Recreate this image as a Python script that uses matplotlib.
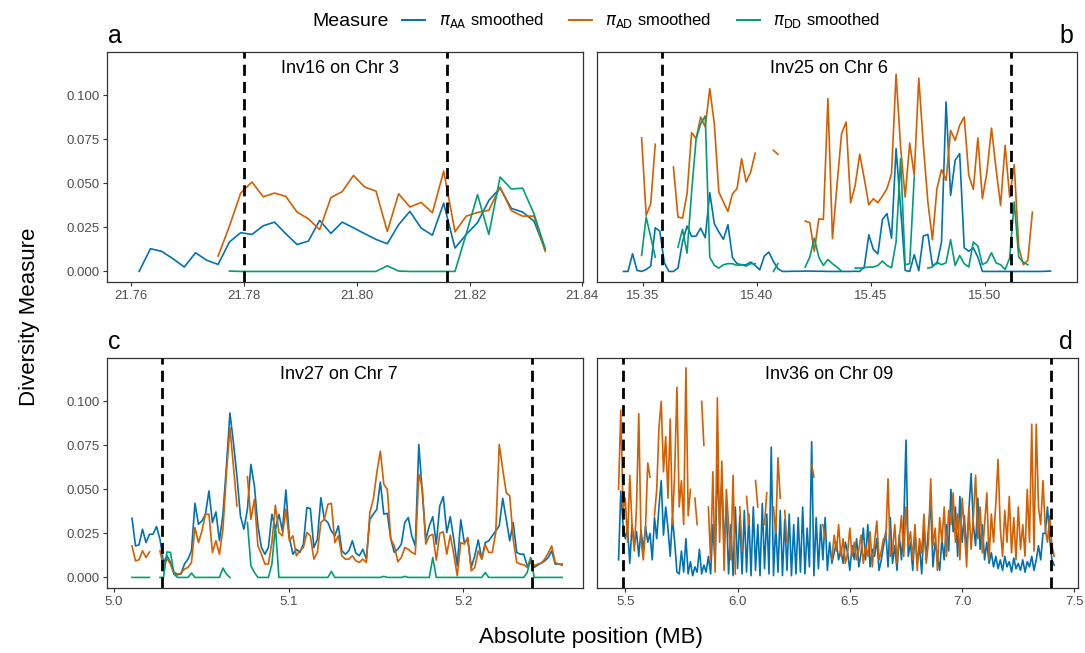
import numpy as np
import matplotlib.pyplot as plt
from matplotlib.lines import Line2D

plt.rcParams['font.family'] = ['Liberation Sans', 'DejaVu Sans']
plt.rcParams['mathtext.fontset'] = 'dejavusans'

nan = np.nan
BLUE = '#0072B2'
ORANGE = '#D55E00'
GREEN = '#009E73'

# ---- panel a : Inv16 on Chr 3 ----
pos_a = np.linspace(21.7614, 21.8334, 37)
a_aa = [0.0, 0.0129, 0.0114, 0.0072, 0.0025, 0.0106, 0.0063, 0.0040, 0.0167, 0.0220,
        0.0210, 0.0259, 0.0280, 0.0214, 0.0153, 0.0172, 0.0290, 0.0216, 0.0280, 0.0248,
        0.0214, 0.0182, 0.0157, 0.0265, 0.0341, 0.0246, 0.0206, 0.0388, 0.0133, 0.0210,
        0.0277, 0.0403, 0.0473, 0.0358, 0.0337, 0.0286, 0.0123]
a_ad = [nan, nan, nan, nan, nan, nan, nan, 0.0087, 0.0256, 0.0445,
        0.0508, 0.0424, 0.0445, 0.0426, 0.0337, 0.0299, 0.0237, 0.0419, 0.0453, 0.0545,
        0.0479, 0.0456, 0.0227, 0.0441, 0.0366, 0.0392, 0.0333, 0.0570, 0.0225, 0.0314,
        0.0335, 0.0347, 0.0479, 0.0345, 0.0314, 0.0314, 0.0114]
a_dd = [nan, nan, nan, nan, nan, nan, nan, nan, 0.0002, 0.0,
        0.0, 0.0, 0.0, 0.0, 0.0, 0.0, 0.0, 0.0, 0.0, 0.0,
        0.0, 0.0, 0.0032, 0.0002, 0.0, 0.0, 0.0, 0.0, 0.0, 0.0214,
        0.0436, 0.0210, 0.0536, 0.0468, 0.0473, 0.0328, 0.0129]
bounds_a = [21.780, 21.816]

# ---- panel b : Inv25 on Chr 6 ----
pos_b = np.linspace(15.3414, 15.5288, 95)
b_aa = [0.0, 0.0, 0.0100, 0.0006, 0.0, 0.0011, 0.0030, 0.0248, 0.0229, 0.0049,
        0.0, 0.0, 0.0019, 0.0167, 0.0258, 0.0199, 0.0201, 0.0246, 0.0191, 0.0447,
        0.0271, 0.0224, 0.0182, 0.0265, 0.0078, 0.0044, 0.0038, 0.0038, 0.0053, 0.0034,
        0.0009, 0.0087, 0.0110, 0.0057, 0.0015, 0.0, 0.0, 0.0001, 0.0001, 0.0001,
        0.0002, 0.0002, 0.0001, 0.0001, 0.0001, 0.0, 0.0, 0.0, 0.0, 0.0,
        0.0, 0.0001, 0.0, 0.0025, 0.0208, 0.0125, 0.0100, 0.0295, 0.0328, 0.0189,
        0.0697, 0.0360, 0.0006, 0.0, 0.0095, 0.0004, 0.0201, 0.0210, 0.0034, 0.0044,
        0.0167, 0.0962, 0.0432, 0.0631, 0.0669, 0.0134, 0.0115, 0.0134, 0.0081, 0.0,
        0.0, 0.0, 0.0, 0.0, 0.0, 0.0, 0.0, 0.0, 0.0, 0.0,
        0.0, 0.0, 0.0, 0.0001, 0.0002]
b_ad = [nan, nan, nan, nan, 0.0759, 0.0318, 0.0384, 0.0722, nan, nan,
        nan, 0.0593, 0.0309, 0.0303, 0.0441, 0.0788, 0.0754, 0.0877, 0.0820, 0.1038,
        0.0839, 0.0451, 0.0394, 0.0341, 0.0441, 0.0470, 0.0640, 0.0508, 0.0564, 0.0672,
        nan, nan, nan, 0.0688, 0.0665, nan, nan, nan, nan, nan,
        0.0286, 0.0277, 0.0114, 0.0299, 0.0295, 0.0981, 0.0186, 0.0489, 0.0782, 0.0848,
        0.0390, 0.0489, 0.0665, 0.0527, 0.0379, 0.0413, 0.0390, 0.0428, 0.0470, 0.0555,
        0.1120, 0.0706, 0.0422, 0.0729, 0.0545, 0.1098, 0.0716, 0.0394, 0.0180, 0.0470,
        0.0578, 0.0517, 0.0801, 0.0744, 0.0830, 0.0877, 0.0545, 0.0466, 0.0758, 0.0413,
        0.0564, 0.0814, 0.0583, 0.0375, 0.0716, 0.0422, 0.0606, 0.0138, 0.0038, 0.0063,
        0.0337, nan, nan, nan, nan]
b_dd = [nan, nan, nan, nan, 0.0091, 0.0309, 0.0195, 0.0081, nan, nan,
        nan, nan, 0.0138, 0.0239, 0.0104, 0.0450, 0.0754, 0.0839, 0.0883, 0.0081,
        0.0034, 0.0019, 0.0038, 0.0044, 0.0044, 0.0034, 0.0038, 0.0030, 0.0044, 0.0044,
        nan, nan, nan, 0.0, 0.0044, nan, nan, nan, nan, nan,
        0.0025, 0.0081, 0.0189, 0.0081, 0.0034, 0.0068, 0.0044, 0.0025, 0.0002, nan,
        nan, 0.0019, 0.0019, 0.0021, 0.0025, 0.0025, 0.0034, 0.0059, 0.0034, 0.0021,
        0.0167, 0.0640, 0.0038, 0.0044, 0.0536, nan, nan, 0.0019, 0.0025, 0.0053,
        0.0038, 0.0049, 0.0180, 0.0034, 0.0091, 0.0044, 0.0025, 0.0167, 0.0144, 0.0038,
        0.0053, 0.0106, 0.0049, 0.0038, 0.0011, 0.0076, 0.0394, 0.0081, 0.0053, 0.0038,
        nan, nan, nan, nan, nan]
bounds_b = [15.3582, 15.5114]

# ---- panel c : Inv27 on Chr 7 ----
pos_c = np.linspace(5.0105, 5.2565, 124)
c_aa = [0.0336, 0.0179, 0.0185, 0.0274, 0.0198, 0.0245, 0.0245, 0.0289, 0.0217, 0.0085,
        0.0123, 0.0085, 0.0028, 0.0019, 0.0019, 0.0076, 0.0104, 0.0151, 0.0421, 0.0302,
        0.0321, 0.0359, 0.0491, 0.0312, 0.0372, 0.0208, 0.0359, 0.0632, 0.0934, 0.0765,
        0.0576, 0.0349, 0.0274, 0.0387, 0.0642, 0.0519, 0.0293, 0.0170, 0.0132, 0.0170,
        0.0359, 0.0274, 0.0359, 0.0264, 0.0497, 0.0227, 0.0132, 0.0160, 0.0142, 0.0189,
        0.0397, 0.0391, 0.0170, 0.0217, 0.0453, 0.0330, 0.0312, 0.0264, 0.0236, 0.0293,
        0.0151, 0.0132, 0.0151, 0.0208, 0.0138, 0.0123, 0.0160, 0.0104, 0.0330, 0.0359,
        0.0387, 0.0542, 0.0359, 0.0364, 0.0217, 0.0142, 0.0160, 0.0189, 0.0312, 0.0340,
        0.0236, 0.0179, 0.0755, 0.0481, 0.0217, 0.0293, 0.0345, 0.0189, 0.0406, 0.0459,
        0.0255, 0.0345, 0.0217, 0.0066, 0.0327, 0.0198, 0.0217, 0.0057, 0.0123, 0.0213,
        0.0104, 0.0198, 0.0208, 0.0236, 0.0264, 0.0293, 0.0449, 0.0330, 0.0208, 0.0312,
        0.0142, 0.0132, 0.0132, 0.0066, 0.0085, 0.0057, 0.0070, 0.0081, 0.0094, 0.0113,
        0.0151, 0.0076, 0.0076, 0.0070]
c_ad = [0.0179, 0.0094, 0.0100, 0.0151, 0.0113, 0.0145, nan, nan, 0.0151, 0.0057,
        0.0108, 0.0076, 0.0019, 0.0013, 0.0025, 0.0047, 0.0057, 0.0085, 0.0283, 0.0198,
        0.0264, 0.0359, 0.0359, 0.0142, 0.0208, 0.0132, 0.0274, 0.0595, 0.0850, 0.0632,
        0.0406, nan, nan, 0.0572, 0.0330, 0.0444, 0.0179, 0.0132, 0.0076, 0.0076,
        0.0198, 0.0410, 0.0255, 0.0236, 0.0387, 0.0208, 0.0236, 0.0123, 0.0151, 0.0170,
        0.0255, 0.0236, 0.0104, 0.0142, 0.0312, 0.0330, 0.0415, 0.0421, 0.0198, 0.0236,
        0.0123, 0.0104, 0.0104, 0.0123, 0.0094, 0.0085, 0.0104, 0.0085, 0.0368, 0.0444,
        0.0595, 0.0717, 0.0529, 0.0500, 0.0217, 0.0179, 0.0089, 0.0113, 0.0170, 0.0160,
        0.0142, 0.0132, 0.0585, 0.0510, 0.0189, 0.0236, 0.0245, 0.0098, 0.0251, 0.0259,
        0.0132, 0.0240, 0.0132, 0.0009, 0.0198, 0.0189, 0.0227, 0.0038, 0.0057, 0.0151,
        0.0104, 0.0185, 0.0142, 0.0142, 0.0255, 0.0755, 0.0614, 0.0481, 0.0463, 0.0217,
        0.0085, 0.0076, 0.0072, 0.0057, 0.0113, 0.0066, 0.0076, 0.0081, 0.0104, 0.0138,
        0.0179, 0.0085, 0.0076, 0.0076]
c_dd = [0.0, 0.0, 0.0, 0.0, 0.0, 0.0, nan, nan, 0.0, 0.0,
        0.0145, 0.0142, 0.0019, 0.0, 0.0, 0.0, 0.0, 0.0025, 0.0, 0.0,
        0.0, 0.0, 0.0, 0.0, 0.0, 0.0, 0.0053, 0.0019, 0.0, nan,
        nan, nan, nan, 0.0312, 0.0066, 0.0028, 0.0, 0.0, 0.0, 0.0,
        0.0076, 0.0293, 0.0, 0.0, 0.0, 0.0, 0.0, 0.0, 0.0, 0.0,
        0.0, 0.0, 0.0, 0.0, 0.0, 0.0, 0.0, 0.0034, 0.0, 0.0,
        0.0, 0.0, 0.0, 0.0, 0.0, 0.0, 0.0, 0.0, 0.0, 0.0,
        0.0, 0.0, 0.0006, 0.0, 0.0, 0.0, 0.0, 0.0, 0.0006, 0.0,
        0.0, 0.0, 0.0, 0.0, 0.0, 0.0, 0.0113, 0.0, 0.0, 0.0,
        0.0, 0.0, 0.0, 0.0, 0.0, 0.0, 0.0, 0.0, 0.0, 0.0,
        0.0, 0.0028, 0.0, 0.0, 0.0, 0.0, 0.0, 0.0, 0.0, 0.0,
        0.0, 0.0, 0.0, 0.0028, 0.0108, 0.0, 0.0, 0.0, 0.0, 0.0,
        0.0, 0.0, 0.0, 0.0]
bounds_c = [5.0277, 5.2391]

# ---- panel d : Inv36 on Chr 09 ----
pos_d = np.round(np.linspace(5.47, 7.41, 195), 2)
d_aa = [0.010, 0.049, 0.030, 0.022, 0.028, 0.008, 0.030, 0.018, 0.026, 0.012,
        0.027, 0.015, 0.029, 0.020, 0.025, 0.010, 0.034, 0.022, 0.040, 0.055,
        0.024, 0.040, 0.028, 0.012, 0.034, 0.020, 0.003, 0.002, 0.015, 0.003,
        0.022, 0.002, 0.009, 0.001, 0.006, 0.003, 0.016, 0.002, 0.007, 0.003,
        0.012, 0.002, 0.030, 0.008, 0.064, 0.030, 0.055, 0.018, 0.040, 0.002,
        0.030, 0.001, 0.040, 0.005, 0.035, 0.002, 0.038, 0.003, 0.036, 0.001,
        0.040, 0.004, 0.030, 0.001, 0.042, 0.005, 0.036, 0.002, 0.074, 0.001,
        0.030, 0.003, 0.038, 0.001, 0.033, 0.004, 0.036, 0.001, 0.030, 0.002,
        0.034, 0.003, 0.040, 0.002, 0.028, 0.006, 0.077, 0.001, 0.034, 0.005,
        0.030, 0.010, 0.034, 0.004, 0.020, 0.008, 0.014, 0.020, 0.010, 0.016,
        0.008, 0.020, 0.014, 0.004, 0.018, 0.010, 0.022, 0.006, 0.014, 0.028,
        0.010, 0.030, 0.006, 0.016, 0.012, 0.022, 0.004, 0.010, 0.018, 0.026,
        0.006, 0.034, 0.008, 0.018, 0.004, 0.024, 0.010, 0.030, 0.078, 0.012,
        0.020, 0.004, 0.026, 0.008, 0.018, 0.002, 0.030, 0.010, 0.028, 0.042,
        0.006, 0.020, 0.012, 0.004, 0.022, 0.010, 0.030, 0.015, 0.050, 0.026,
        0.040, 0.012, 0.046, 0.020, 0.035, 0.014, 0.038, 0.059, 0.030, 0.018,
        0.045, 0.016, 0.030, 0.010, 0.020, 0.008, 0.014, 0.006, 0.012, 0.005,
        0.010, 0.004, 0.012, 0.006, 0.009, 0.003, 0.011, 0.005, 0.008, 0.004,
        0.010, 0.003, 0.009, 0.006, 0.012, 0.004, 0.010, 0.018, 0.010, 0.025,
        0.025, 0.040, 0.022, 0.010, 0.007]
d_ad = [0.050, 0.095, 0.038, 0.045, 0.020, 0.058, 0.030, 0.015, 0.040, 0.093,
        0.022, 0.010, 0.028, 0.065, 0.057, nan, 0.035, 0.050, 0.085, 0.100,
        0.060, 0.080, 0.045, 0.090, 0.030, 0.060, 0.108, 0.040, 0.055, 0.030,
        0.119, 0.035, 0.050, nan, 0.045, 0.030, nan, 0.100, 0.075, nan,
        0.040, 0.010, 0.060, 0.003, 0.102, 0.020, 0.066, 0.004, 0.050, 0.030,
        0.010, 0.058, 0.002, nan, 0.040, 0.015, nan, 0.046, 0.030, nan,
        nan, 0.055, 0.040, nan, nan, 0.030, 0.048, nan, nan, 0.040,
        0.025, 0.068, 0.045, nan, 0.038, 0.020, nan, nan, nan, nan,
        nan, nan, nan, nan, nan, nan, 0.064, 0.057, nan, nan,
        nan, 0.030, 0.022, nan, nan, 0.010, 0.024, 0.015, 0.030, 0.012,
        0.022, 0.008, 0.014, 0.028, 0.012, 0.020, 0.010, 0.016, 0.024, 0.008,
        0.018, 0.012, 0.026, 0.006, 0.020, 0.032, 0.010, 0.015, 0.022, 0.022,
        0.056, 0.012, 0.015, 0.030, 0.008, 0.022, 0.035, 0.012, 0.040, 0.018,
        0.026, 0.010, 0.030, 0.004, 0.022, 0.014, 0.036, 0.008, 0.020, 0.056,
        0.018, 0.028, 0.004, 0.034, 0.020, 0.040, 0.012, 0.038, 0.030, 0.048,
        0.020, 0.036, 0.010, 0.045, 0.028, 0.006, 0.040, 0.016, 0.034, 0.058,
        0.022, 0.040, 0.014, 0.030, 0.048, 0.010, 0.036, 0.020, 0.042, 0.067,
        0.028, 0.012, 0.038, 0.020, 0.046, 0.014, 0.034, 0.010, 0.040, 0.016,
        0.030, 0.012, 0.050, 0.020, 0.087, 0.015, 0.087, 0.040, 0.030, 0.055,
        0.028, 0.020, 0.035, 0.018, 0.012]
bounds_d = [5.488, 7.396]

titles = ['Inv16 on Chr 3', 'Inv25 on Chr 6', 'Inv27 on Chr 7', 'Inv36 on Chr 09']
letters = ['a', 'b', 'c', 'd']
legend_labels = [r'$\pi_{\mathsf{AA}}$ smoothed', r'$\pi_{\mathsf{AD}}$ smoothed',
                 r'$\pi_{\mathsf{DD}}$ smoothed']
y_ticks = [0.0, 0.025, 0.05, 0.075, 0.1]
y_labels = ['0.000', '0.025', '0.050', '0.075', '0.100']

W, H = 1085, 653
fig = plt.figure(figsize=(W / 100, H / 100), dpi=100)


def px_box(x0, y0, x1, y1):
    return [x0 / W, 1 - y1 / H, (x1 - x0) / W, (y1 - y0) / H]


def panel(box, pos, aa, ad, dd, bounds, title, tx, xlim, xticks, xlabels, show_y):
    ax = fig.add_axes(px_box(*box))
    ax.plot(pos, aa, color=BLUE, lw=1.2)
    ax.plot(pos, ad, color=ORANGE, lw=1.2)
    if dd is not None:
        ax.plot(pos, dd, color=GREEN, lw=1.2)
    for b in bounds:
        ax.axvline(b, color='black', lw=2.0, ls=(0, (4, 2.2)), zorder=5)
    ax.set_xlim(*xlim)
    ax.set_ylim(-0.006, 0.1246)
    ax.set_xticks(xticks)
    ax.set_xticklabels(xlabels)
    if show_y:
        ax.set_yticks(y_ticks)
        ax.set_yticklabels(y_labels)
    else:
        ax.set_yticks([])
    ax.tick_params(direction='out', length=3, width=0.8, color='#333333',
                   labelsize=9.5, labelcolor='#4D4D4D', pad=2.5)
    for s in ax.spines.values():
        s.set_color('#333333')
        s.set_linewidth(0.9)
    ax.text(tx, 1 - 21.3 / 230, title, transform=ax.transAxes, ha='center',
            va='baseline', fontsize=13)
    return ax


panel((107, 52, 583, 282), pos_a, a_aa, a_ad, a_dd, bounds_a, titles[0], 0.489,
      (21.7557, 21.8401), [21.76, 21.78, 21.80, 21.82, 21.84],
      ['21.76', '21.78', '21.80', '21.82', '21.84'], True)
panel((597, 52, 1077, 282), pos_b, b_aa, b_ad, b_dd, bounds_b, titles[1], 0.483,
      (15.3298, 15.5404), [15.35, 15.40, 15.45, 15.50],
      ['15.35', '15.40', '15.45', '15.50'], False)
panel((107, 358, 583, 588), pos_c, c_aa, c_ad, c_dd, bounds_c, titles[2], 0.488,
      (4.9962, 5.2684), [5.0, 5.1, 5.2], ['5.0', '5.1', '5.2'], True)
panel((597, 358, 1078, 588), pos_d, d_aa, d_ad, None, bounds_d, titles[3], 0.482,
      (5.374, 7.516), [5.5, 6.0, 6.5, 7.0, 7.5], ['5.5', '6.0', '6.5', '7.0', '7.5'], False)

# panel letters
fig.text(108 / W, 1 - 43 / H, letters[0], fontsize=18, ha='left', va='baseline')
fig.text(1073 / W, 1 - 43 / H, letters[1], fontsize=18, ha='right', va='baseline')
fig.text(108 / W, 1 - 349 / H, letters[2], fontsize=18, ha='left', va='baseline')
fig.text(1073 / W, 1 - 349 / H, letters[3], fontsize=18, ha='right', va='baseline')

# legend on top
handles = [Line2D([], [], color=c, lw=1.4) for c in (BLUE, ORANGE, GREEN)]
fig.text(312 / W, 1 - 21 / H, 'Measure', fontsize=14, ha='left', va='center')
fig.legend(handles, legend_labels, ncol=3, loc='center left',
           bbox_to_anchor=(402 / W, 1 - 21 / H), frameon=False, fontsize=12,
           handlelength=1.4, handletextpad=0.8, columnspacing=1.5,
           borderpad=0, borderaxespad=0)

fig.text(30 / W, 1 - 317 / H, 'Diversity Measure', rotation=90, fontsize=16,
         ha='center', va='center')
fig.text(591 / W, 1 - 637 / H, 'Absolute position (MB)', fontsize=16,
         ha='center', va='center')

plt.savefig('out.png', dpi=100)
